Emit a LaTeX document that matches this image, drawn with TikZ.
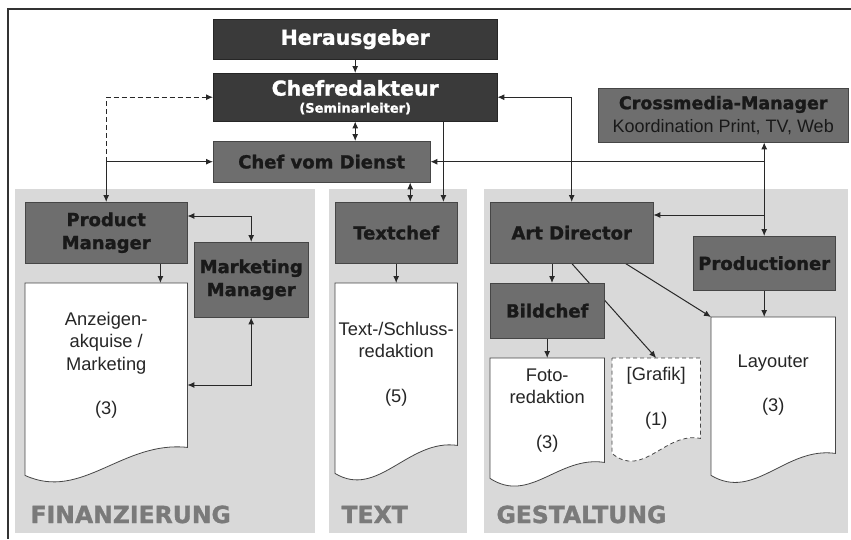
\documentclass[tikz,border=0pt]{standalone}
\usepackage{fontspec}
\setmainfont{Liberation Sans}
\newfontfamily\headfont{DejaVu Sans}[BoldFeatures={FakeBold=1.3}]
\usetikzlibrary{arrows.meta, calc}
\definecolor{boxdark}{RGB}{58,58,58}
\definecolor{boxmid}{RGB}{110,110,110}
\definecolor{edgegray}{RGB}{70,70,70}
\definecolor{panelgray}{RGB}{217,217,217}
\definecolor{labelgray}{RGB}{122,122,122}
\definecolor{linegray}{RGB}{40,40,40}
\pgfdeclarelayer{back}
\pgfdeclarelayer{wires}
\pgfsetlayers{back,wires,main}

% sheet outline with wavy lower edge
\newcommand{\docsheet}[3][]{%
  \draw[sheetline,#1] (#2.north west) -- (#2.north east) -- (#2.south east)
    .. controls ($(#2.south west)!0.6!(#2.south east)+(0,-7)$)
    and ($(#2.south west)!0.35!(#2.south east)+(0,#3+26)$)
    .. ($(#2.south west)+(0,#3)$) -- cycle;}

\tikzset{
  darkbox/.style={draw=black!85, fill=boxdark, text=white, anchor=north west,
    inner sep=0pt, align=center, font=\headfont\bfseries\fontsize{20.5}{24}\selectfont},
  midbox/.style={draw=edgegray, fill=boxmid, text=black!90, anchor=north west,
    inner sep=0pt, align=center, font=\headfont\bfseries\fontsize{18}{23}\selectfont},
  sheet/.style={anchor=north west, inner sep=0pt, align=center,
    text=black!85, font=\fontsize{18.3}{22.5}\selectfont},
  sheetline/.style={draw=edgegray, fill=white, line width=0.8pt},
  panel/.style={fill=panelgray},
  panellabel/.style={anchor=base west, text=labelgray,
    font=\headfont\bfseries\fontsize{23.5}{28}\selectfont},
  framerule/.style={draw=black!80, line width=1.5pt},
  link/.style={draw=linegray, line width=1pt, -{Latex[length=7pt,width=6pt]}},
  linkboth/.style={link, {Latex[length=7pt,width=6pt]}-{Latex[length=7pt,width=6pt]}},
}

\begin{document}
\begin{tikzpicture}[x=1pt, y=-1pt]
  \useasboundingbox (0,0) rectangle (851,539);

  % departments
  \begin{pgfonlayer}{back}
    \fill[white] (0,0) rectangle (851,539);
    \fill[panel] (15,189) rectangle (315,533);
    \fill[panel] (329,189) rectangle (467,533);
    \fill[panel] (484,189) rectangle (848,533);
  \end{pgfonlayer}
  \draw[framerule] (851,9) -- (8,9) -- (8,539);
  \node[panellabel] (finlabel) at (27,523) {FINANZIERUNG};
  \node[panellabel] (txtlabel) at (338,523) {TEXT};
  \node[panellabel] (gestlabel) at (493,523) {GESTALTUNG};

  % management
  \node[darkbox, minimum width=284pt, minimum height=40pt] (her) at (213,19) {Herausgeber};
  \node[darkbox, minimum width=284pt, minimum height=48pt] (chef) at (213,73)
    {Chefredakteur\\[-7pt]{\fontsize{13}{15}\selectfont(Seminarleiter)}};
  \node[midbox, minimum width=217pt, minimum height=41pt] (cvd) at (213,141) {Chef vom Dienst};
  \node[midbox, minimum width=250pt, minimum height=54pt, font=\headfont\bfseries\fontsize{17.5}{23}\selectfont] (cross) at (598,88)
    {Crossmedia-Manager\\{\normalfont\fontsize{18}{23}\selectfont Koordination Print, TV, Web}};

  % Finanzierung
  \node[midbox, minimum width=162pt, minimum height=61pt] (pm) at (25,202) {Product\\Manager};
  \node[midbox, minimum width=114pt, minimum height=75pt] (mm) at (194,242) {Marketing\\Manager};
  \node[sheet, minimum width=162pt, minimum height=164pt] (anz) at (25,283)
    {Anzeigen-\\akquise /\\Marketing\\[22pt](3)};

  % Text
  \node[midbox, minimum width=122pt, minimum height=61pt] (tc) at (335,202) {Textchef};
  \node[sheet, minimum width=122pt, minimum height=162pt] (txt) at (335,283)
    {Text-/Schluss-\\redaktion\\[22pt](5)};

  % Gestaltung
  \node[midbox, minimum width=163pt, minimum height=61pt] (ad) at (490,202) {Art Director};
  \node[midbox, minimum width=142pt, minimum height=54pt] (prod) at (693,236) {Productioner};
  \node[midbox, minimum width=114pt, minimum height=55pt] (bc) at (490,283) {Bildchef};
  \node[sheet, minimum width=114pt, minimum height=104pt] (foto) at (490,358)
    {Foto-\\redaktion\\[22pt](3)};
  \node[sheet, minimum width=88pt, minimum height=80pt] (graf) at (612,358)
    {[Grafik]\\[22pt](1)};
  \node[sheet, minimum width=124pt, minimum height=136pt] (lay) at (711,317)
    {Layouter\\[22pt](3)};

  \begin{pgfonlayer}{back}
    \docsheet{anz}{28}
    \docsheet{txt}{28}
    \docsheet{foto}{16}
    \docsheet[dash pattern=on 4pt off 3pt]{graf}{15}
    \docsheet{lay}{22}
  \end{pgfonlayer}

  % connectors
  \coordinate (tcin) at ($(tc.north)+(14,0)$);
  \coordinate (chefout) at ($(chef.south east)+(-54,0)$);
  \coordinate (adin) at ($(ad.north east)+(0,13)$);
  \coordinate (pmout) at ($(pm.north east)+(0,14)$);
  \coordinate (pmdown) at ($(pm.south east)+(-27,0)$);
  \coordinate (anzin) at ($(anz.north east)+(0,102)$);
  \coordinate (adbild) at ($(ad.south west)+(62,0)$);
  \coordinate (adlay) at ($(ad.south east)+(-28,0)$);
  \begin{pgfonlayer}{wires}
    \draw[link] (her.south) -- (chef.north);
    \draw[linkboth] (chef.south) -- (chef.south |- cvd.north);
    \draw[link, dash pattern=on 5pt off 3pt] (pm.north |- cvd.west) -- (pm.north |- chef.west) -- (chef.west);
    \draw[linkboth] (cvd.west) -| (pm.north);
    \draw[linkboth] (tcin) -- (tcin |- cvd.south);
    \draw[link] (chefout) -- (chefout |- tc.north);
    \draw[linkboth] (chef.east) -| (ad.north);
    \draw[linkboth] (cross.south -| prod.north) -- (prod.north);
    \draw[link] (prod.north |- cvd.east) -- (cvd.east);
    \draw[link] (prod.north |- adin) -- (adin);
    \draw[linkboth] (pmout) -| (mm.north);
    \draw[link] (pmdown) -- (pmdown |- anz.north);
    \draw[linkboth] (mm.south) |- (anzin);
    \draw[link] (tc.south) -- (txt.north);
    \draw[link] (adbild) -- (adbild |- bc.north);
    \draw[link] (ad.south) -- (graf.north);
    \draw[link] (adlay) -- (lay.north west);
    \draw[link] (prod.south) -- (prod.south |- lay.north);
    \draw[link] (bc.south) -- (bc.south |- foto.north);
  \end{pgfonlayer}
\end{tikzpicture}
\end{document}
